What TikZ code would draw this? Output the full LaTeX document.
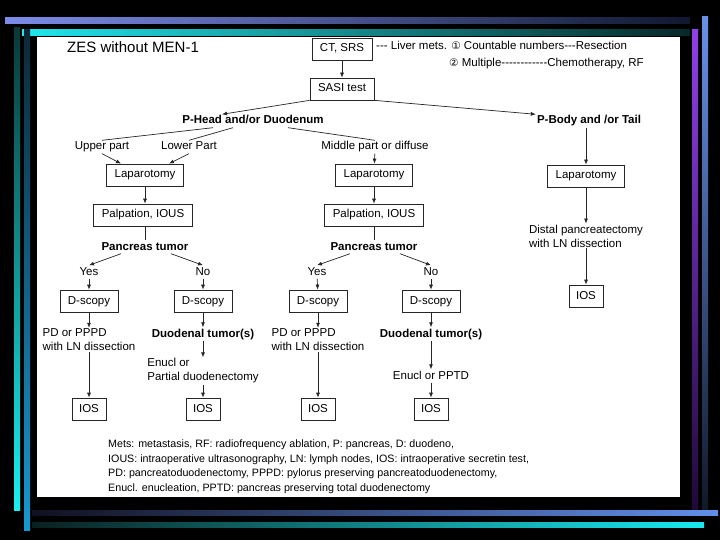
\documentclass[tikz,border=0pt]{standalone}
\usepackage{fontspec}
\setmainfont{Liberation Sans}
\newfontfamily\symfont{DejaVu Sans}
\usetikzlibrary{arrows.meta}

\tikzset{
    box/.style={draw=black!85, line width=0.7pt, fill=white, inner xsep=8pt, inner ysep=2pt,
        minimum height=22pt, text height=8.5pt, text depth=2.5pt, font=\fontsize{11.5}{13.5}\selectfont},
    lbl/.style={inner sep=1pt, font=\fontsize{11.5}{14}\selectfont},
    word/.style={lbl, text height=8.5pt, text depth=2.5pt},
    head/.style={inner sep=1pt, text height=8.5pt, text depth=2.5pt, font=\bfseries\fontsize{11.5}{13.5}\selectfont},
    arr/.style={-{Latex[length=5pt,width=4pt]}, line width=0.7pt, black!85},
    ln/.style={line width=0.7pt, black!85},
}
\newcommand{\numc}[1]{{\symfont\fontsize{10.5}{12}\selectfont #1}}

\begin{document}
\begin{tikzpicture}[x=1pt, y=-1pt]
    \useasboundingbox (0,0) rectangle (720,540);
    % background and frame bars
    \fill[black] (0,0) rectangle (720,540);
    \shade[left color={rgb,255:red,125;green,140;blue,232}, right color={rgb,255:red,16;green,24;blue,48}] (5,18) rectangle (690,24);
    \shade[left color={rgb,255:red,32;green,230;blue,236}, right color={rgb,255:red,8;green,40;blue,40}] (22,30) rectangle (690,36);
    \shade[top color={rgb,255:red,10;green,56;blue,56}, bottom color={rgb,255:red,24;green,240;blue,240}] (14,28) rectangle (20,510);
    \shade[top color={rgb,255:red,12;green,40;blue,56}, bottom color={rgb,255:red,24;green,152;blue,208}] (24,30) rectangle (30,530);
    \shade[top color={rgb,255:red,144;green,64;blue,232}, bottom color={rgb,255:red,32;green,8;blue,56}] (692,30) rectangle (698,510);
    \shade[top color={rgb,255:red,104;green,144;blue,232}, bottom color={rgb,255:red,16;green,24;blue,40}] (702,17) rectangle (708,512);
    \shade[left color={rgb,255:red,16;green,16;blue,32}, right color={rgb,255:red,96;green,144;blue,232}] (32,510) rectangle (718,515);
    \shade[left color={rgb,255:red,10;green,32;blue,32}, right color={rgb,255:red,24;green,232;blue,240}] (32,522) rectangle (704,527);
    \fill[white] (37,37) rectangle (680,497);

    % title and top of the chart
    \node[anchor=west, inner sep=0pt, font=\fontsize{15}{18}\selectfont] (title) at (67,47) {ZES without MEN-1};
    \node[box] (ct) at (342,49) {CT, SRS};
    \node[word, anchor=west] (mets1) at (375,47) {-{}-{}- Liver mets. \numc{①} Countable numbers-{}-{}-Resection};
    \node[word, anchor=west] (mets2) at (448,64) {\numc{②} Multiple-{}-{}-{}-{}-{}-{}-{}-{}-{}-{}-{}-Chemotherapy, RF};
    \node[box] (sasi) at (342,89) {SASI test};
    \node[head] (phead) at (253,121) {P-Head and/or Duodenum};
    \node[head] (pbody) at (589,121) {P-Body and /or Tail};

    \draw[arr] (ct) -- (sasi);
    \draw[arr] (sasi.south west) -- ([xshift=-31pt]phead.north);
    \draw[arr] (sasi.south east) -- (pbody.north west);

    % P-Head branch
    \node[word] (upper) at (102,147) {Upper part};
    \node[word] (lower) at (189,147) {Lower Part};
    \node[word] (middle) at (375,147) {Middle part or diffuse};
    \draw[ln] ([xshift=-40pt]phead.south) -- (upper.north);
    \draw[ln] ([xshift=-20pt]phead.south) -- (lower.north);
    \draw[ln] ([xshift=35pt]phead.south) -- (middle.north);

    % left column
    \node[box] (lap1) at (145,175) {Laparotomy};
    \node[box] (palp1) at (143,215) {Palpation, IOUS};
    \node[head] (pt1) at (145,247) {Pancreas tumor};
    \node[word] (yes1) at (89,272) {Yes};
    \node[word] (no1) at (203,272) {No};
    \node[box] (ds1) at (89,301) {D-scopy};
    \node[box] (ds2) at (203,301) {D-scopy};
    \node[lbl, align=left] (pd1) at (89,340) {PD or PPPD\\with LN dissection};
    \node[head] (dt1) at (203,334) {Duodenal tumor(s)};
    \node[lbl, align=left] (en1) at (203,371) {Enucl or\\Partial duodenectomy};
    \node[box, inner xsep=7pt] (ios1) at (89,409) {IOS};
    \node[box, inner xsep=7pt] (ios2) at (203,409) {IOS};

    \draw[arr] (upper.south) -- ([xshift=-24pt]lap1.north);
    \draw[arr] (lower.south) -- ([xshift=24pt]lap1.north);
    \draw[arr] (lap1) -- (lap1 |- palp1.north);
    \draw[ln] (palp1.south -| pt1) -- (pt1);
    \draw[arr] ([xshift=-24pt]pt1.south) -- (yes1.north);
    \draw[arr] ([xshift=26pt]pt1.south) -- (no1.north);
    \draw[arr] (yes1) -- (ds1);
    \draw[arr] (no1) -- (ds2);
    \draw[arr] (ds1) -- (pd1);
    \draw[arr] (pd1) -- (ios1);
    \draw[arr] (ds2) -- (dt1);
    \draw[arr] (dt1) -- (en1);
    \draw[arr] (en1) -- (ios2);

    % middle column
    \node[box] (lap2) at (374,175) {Laparotomy};
    \node[box] (palp2) at (374,215) {Palpation, IOUS};
    \node[head] (pt2) at (374,247) {Pancreas tumor};
    \node[word] (yes2) at (317,272) {Yes};
    \node[word] (no2) at (431,272) {No};
    \node[box] (ds3) at (318,301) {D-scopy};
    \node[box] (ds4) at (431,301) {D-scopy};
    \node[lbl, align=left] (pd2) at (318,340) {PD or PPPD\\with LN dissection};
    \node[head] (dt2) at (431,334) {Duodenal tumor(s)};
    \node[word] (en2) at (431,376) {Enucl or PPTD};
    \node[box, inner xsep=7pt] (ios3) at (318,409) {IOS};
    \node[box, inner xsep=7pt] (ios4) at (431,409) {IOS};

    \draw[arr] (middle) -- (lap2);
    \draw[arr] (lap2) -- (palp2);
    \draw[ln] (palp2) -- (pt2);
    \draw[arr] ([xshift=-24pt]pt2.south) -- (yes2.north);
    \draw[arr] ([xshift=26pt]pt2.south) -- (no2.north);
    \draw[arr] (yes2) -- (ds3);
    \draw[arr] (no2) -- (ds4);
    \draw[arr] (ds3) -- (pd2);
    \draw[arr] (pd2) -- (ios3);
    \draw[arr] (ds4) -- (dt2);
    \draw[arr] (dt2) -- (en2);
    \draw[arr] (en2) -- (ios4);

    % P-Body branch
    \node[box] (lap3) at (586,176) {Laparotomy};
    \node[lbl, align=left] (dist) at (586,236) {Distal pancreatectomy\\with LN dissection};
    \node[box, inner xsep=7pt] (ios5) at (586,296) {IOS};
    \draw[arr] (pbody.south -| lap3.north) -- (lap3.north);
    \draw[arr] (lap3) -- (dist);
    \draw[arr] (dist) -- (ios5);

    % abbreviations
    \node[anchor=north west, align=left, inner sep=0pt, font=\fontsize{10.7}{14.5}\selectfont] (legend) at (108,440) {%
        Mets: metastasis, RF: radiofrequency ablation, P: pancreas, D: duodeno,\\
        IOUS: intraoperative ultrasonography, LN: lymph nodes, IOS: intraoperative secretin test,\\
        PD: pancreatoduodenectomy, PPPD: pylorus preserving pancreatoduodenectomy,\\
        Enucl. enucleation, PPTD: pancreas preserving total duodenectomy};
\end{tikzpicture}
\end{document}
